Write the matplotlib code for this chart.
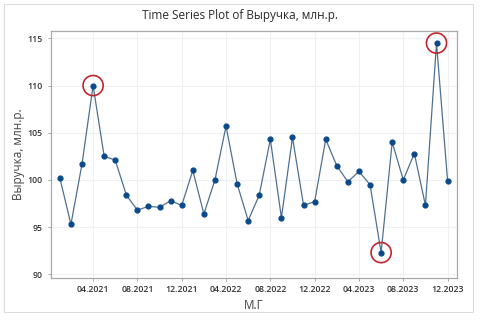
import matplotlib
matplotlib.use("Agg")
import matplotlib.pyplot as plt
from matplotlib.patches import Rectangle

# monthly revenue, 01.2021 .. 12.2023
months = [f"{m:02d}.{y}" for y in (2021, 2022, 2023) for m in range(1, 13)]
revenue = [100.2, 95.3, 101.7, 110.0, 102.5, 102.1, 98.4, 96.8, 97.2, 97.1, 97.8, 97.3,
           101.0, 96.4, 100.0, 105.7, 99.6, 95.7, 98.4, 104.3, 96.0, 104.5, 97.3, 97.7,
           104.3, 101.5, 99.8, 100.9, 99.5, 92.3, 104.0, 100.0, 102.8, 97.3, 114.5, 99.9]
highlight = ["04.2021", "06.2023", "11.2023"]
tick_labels = ["04.2021", "08.2021", "12.2021", "04.2022", "08.2022",
               "12.2022", "04.2023", "08.2023", "12.2023"]
y_ticks = [90, 95, 100, 105, 110, 115]

plt.rcParams["font.family"] = ["Open Sans", "DejaVu Sans"]

fig = plt.figure(figsize=(4.8, 3.2), dpi=100)
fig.patch.set_facecolor("white")
fig.patches.append(Rectangle((4 / 480, 8 / 320), 469 / 480, 308 / 320, transform=fig.transFigure,
                             fill=False, edgecolor="#dcdcdc", linewidth=0.8))
ax = fig.add_axes([51 / 480, 1 - 277.7 / 320, 406 / 480, 246.7 / 320])

x = list(range(len(months)))
ax.plot(x, revenue, color="#51708f", linewidth=0.9, zorder=3)
ax.scatter(x, revenue, s=12, color="#0b4a8a", zorder=4)

hx = [months.index(m) for m in highlight]
hy = [revenue[i] for i in hx]
ax.scatter(hx, hy, s=210, facecolors="none", edgecolors="#c0272d", linewidths=1.2, zorder=5)

ax.set_xlim(-0.8, 35.85)
ax.set_ylim(89.64, 115.78)
ax.set_xticks([months.index(t) for t in tick_labels])
ax.set_xticklabels(tick_labels)
ax.set_yticks(y_ticks)
ax.grid(True, color="#eef0f3", linewidth=0.8)
ax.set_axisbelow(True)

for s in ax.spines.values():
    s.set_color("#a9a9a9")
    s.set_linewidth(0.9)
ax.tick_params(axis="both", labelsize=6.3, colors="#a9a9a9", labelcolor="#333333", length=2.5, width=0.7)
ax.tick_params(axis="x", pad=3)
for lbl in ax.get_xticklabels() + ax.get_yticklabels():
    lbl.set_fontweight("semibold")

fig.text(0.5, 1 - 16 / 320, "Time Series Plot of Выручка, млн.р.", fontsize=8.5, color="#2a2a2a",
         ha="center", va="center")
ax.set_xlabel("М.Г", fontsize=8.5, color="#444444", labelpad=3)
ax.set_ylabel("Выручка, млн.р.", fontsize=8.5, color="#444444", labelpad=2)

fig.savefig("out.png", dpi=100)
plt.close(fig)
